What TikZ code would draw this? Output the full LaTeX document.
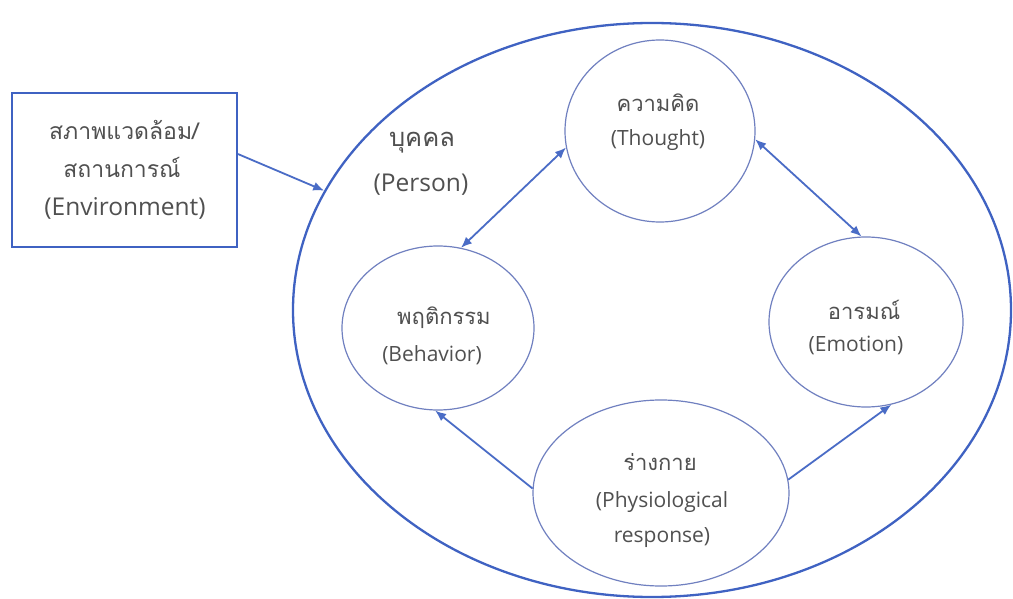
\documentclass[tikz,border=0pt]{standalone}
\usepackage{fontspec}
\setmainfont[Script=Thai]{Loma}
\newfontfamily\latinfont{Open Sans}
\usetikzlibrary{shapes.geometric,arrows.meta}
\definecolor{bigblue}{HTML}{3F62C2}
\definecolor{thinblue}{HTML}{7080C0}
\definecolor{arrowblue}{HTML}{4A6CC6}
\definecolor{txt}{HTML}{505050}
\begin{document}
\begin{tikzpicture}[x=1pt,y=-1pt,
  oval/.style={draw=thinblue, line width=1.2pt, ellipse, inner sep=0pt},
  bigthai/.style={text=txt, font=\fontsize{23}{28}\selectfont, inner sep=0pt},
  perthai/.style={text=txt, font=\fontsize{25.5}{28}\selectfont, inner sep=0pt},
  biglat/.style={text=txt, font=\latinfont\fontsize{24.5}{28}\selectfont, inner sep=0pt},
  thaitxt/.style={text=txt, font=\fontsize{22}{26}\selectfont, inner sep=0pt},
  smalltxt/.style={text=txt, font=\latinfont\fontsize{21}{24}\selectfont, inner sep=0pt},
  conn/.style={draw=arrowblue, line width=1.8pt, -{Latex[length=11pt,width=9pt]}},
  dconn/.style={draw=arrowblue, line width=1.8pt, {Latex[length=11pt,width=9pt]}-{Latex[length=11pt,width=9pt]}}]
\useasboundingbox (0,0) rectangle (1013,599);
\fill[white] (0,0) rectangle (1013,599);

% outer person ellipse
\node[draw=bigblue, line width=2.3pt, ellipse, inner sep=0pt, minimum width=718pt, minimum height=574pt] (person) at (652,310) {};

% environment box
\node[draw=bigblue, line width=2pt, minimum width=225pt, minimum height=154pt, inner sep=0pt] (env) at (124.5,170) {};
\node[bigthai] (envA) at (124,130) {สภาพแวดล้อม/};
\node[bigthai] (envB) at (122,167) {สถานการณ์};
\node[biglat] (envC) at (125,208) {(Environment)};

% person label
\node[perthai] (perA) at (422,143) {บุคคล};
\node[biglat] (perB) at (421,185) {(Person)};

% inner ellipses
\node[oval, minimum width=190pt, minimum height=182pt] (thought) at (660,131) {};
\node[oval, minimum width=192pt, minimum height=164pt] (behavior) at (438,328) {};
\node[oval, minimum width=194pt, minimum height=170pt] (emotion) at (866,322) {};
\node[oval, minimum width=256pt, minimum height=186pt] (physio) at (661,493) {};

\node[thaitxt] (thA) at (658,103) {ความคิด};
\node[smalltxt] (thB) at (658,140) {(Thought)};
\node[thaitxt] (beA) at (444,318) {พฤติกรรม};
\node[smalltxt] (beB) at (432,355) {(Behavior)};
\node[thaitxt] (emA) at (864,310) {อารมณ์};
\node[smalltxt] (emB) at (856,345) {(Emotion)};
\node[thaitxt] (phA) at (660,462) {ร่างกาย};
\node[smalltxt] (phB) at (662,502) {(Physiological};
\node[smalltxt] (phC) at (662,538) {response)};

% connectors
\draw[conn] (env.8) -- (person.160);
\draw[dconn] (thought.190) -- (behavior.74);
\draw[dconn] (thought.-5) -- (emotion.93);
\draw[conn] (physio.178) -- (behavior.268);
\draw[conn] (physio.6) -- (emotion.-73);
\end{tikzpicture}
\end{document}
